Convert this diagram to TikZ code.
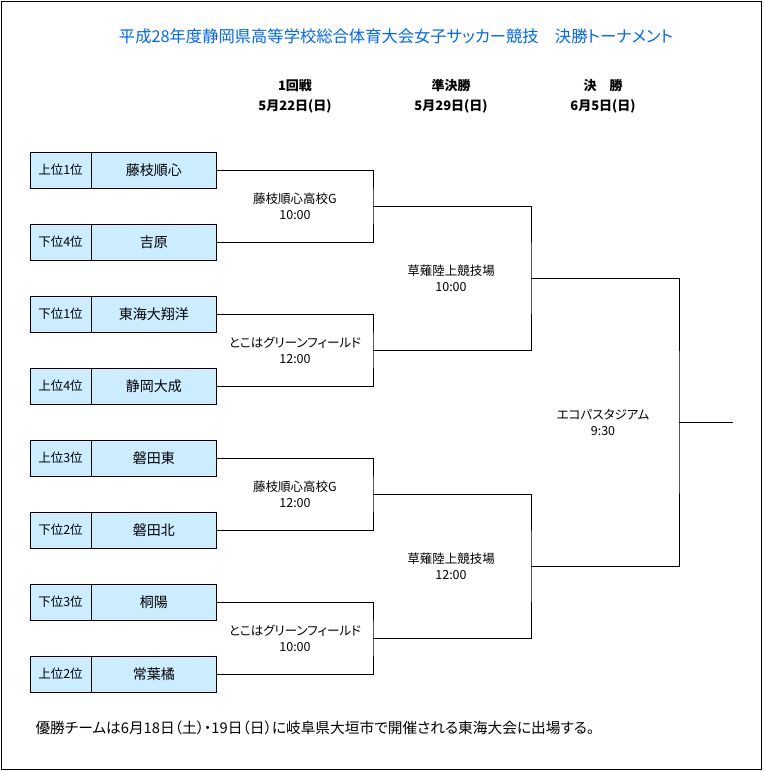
\documentclass[tikz,border=0pt]{standalone}
\usepackage{fontspec}
\setmainfont{Noto Sans CJK JP}[RawFeature=+palt]
\usetikzlibrary{positioning}
\definecolor{titleblue}{RGB}{0,102,255}
\definecolor{boxblue}{RGB}{204,236,255}
\begin{document}
\begin{tikzpicture}[x=1pt,y=-1pt,
    rankbox/.style={draw,fill=boxblue,minimum width=61pt,minimum height=36pt,inner sep=0pt,font=\fontsize{12.5}{12.5}\selectfont},
    teambox/.style={draw,fill=boxblue,minimum width=125pt,minimum height=36pt,inner sep=0pt,font=\fontsize{14}{14}\selectfont},
    venue/.style={align=center,font=\fontsize{12.5}{16}\selectfont},
    head/.style={font=\bfseries\fontsize{13}{13}\selectfont}]
        \useasboundingbox (0,0) rectangle (763,771);
        %% frame
        \draw (1,1) rectangle (761,769);
        \node[text=titleblue,font=\fontsize{16.3}{16.3}\selectfont] (title) at (396,36) {平成28年度静岡県高等学校総合体育大会女子サッカー競技　決勝トーナメント};
        %% rounds
        \foreach \x/\r/\d [count=\i] in {295/1回戦/5月22日(日), 451/準決勝/5月29日(日), 603/決　勝/6月5日(日)} {
            \node[head] (round\i) at (\x,86) {\r};
            \node[head] (date\i) at (\x,106) {\d};
        }
        %% teams
        \foreach \rk/\tm [count=\i] in {上位1位/藤枝順心, 下位4位/吉原, 下位1位/東海大翔洋, 上位4位/静岡大成, 上位3位/磐田東, 下位2位/磐田北, 下位3位/桐陽, 上位2位/常葉橘} {
            \node[rankbox] (rank\i) at (60.5,{170+72*(\i-1)}) {\rk};
            \node[teambox,right=0pt of rank\i] (team\i) {\tm};
        }
        %% first round
        \foreach \j/\v/\t in {1/藤枝順心高校G/10:00, 2/とこはグリーンフィールド/12:00, 3/藤枝順心高校G/12:00, 4/とこはグリーンフィールド/10:00} {
            \pgfmathtruncatemacro\p{2*\j-1}
            \pgfmathtruncatemacro\q{2*\j}
            \coordinate (first\j) at (373,{206+144*(\j-1)});
            \draw (team\p.east) -| (first\j) |- (team\q.east);
            \node[venue] (firstv\j) at (295,{206+144*(\j-1)}) {\v\\\t};
        }
        %% semi-final
        \foreach \j/\t in {1/10:00, 2/12:00} {
            \pgfmathtruncatemacro\p{2*\j-1}
            \pgfmathtruncatemacro\q{2*\j}
            \coordinate (semi\j) at (531,{278+288*(\j-1)});
            \draw (first\p) -| (semi\j) |- (first\q);
            \node[venue] (semiv\j) at (451,{278+288*(\j-1)}) {草薙陸上競技場\\\t};
        }
        %% final
        \coordinate (final) at (679,422);
        \coordinate (winner) at (733,422);
        \draw (semi1) -| (final) |- (semi2);
        \draw (final) -- (winner);
        \node[venue] (finalv) at (603,422) {エコパスタジアム\\9:30};
        %% note
        \node[anchor=west,font=\fontsize{14.7}{14.7}\selectfont] (note) at (32,728) {優勝チームは6月18日（土）・19日（日）に岐阜県大垣市で開催される東海大会に出場する。};
\end{tikzpicture}
\end{document}
